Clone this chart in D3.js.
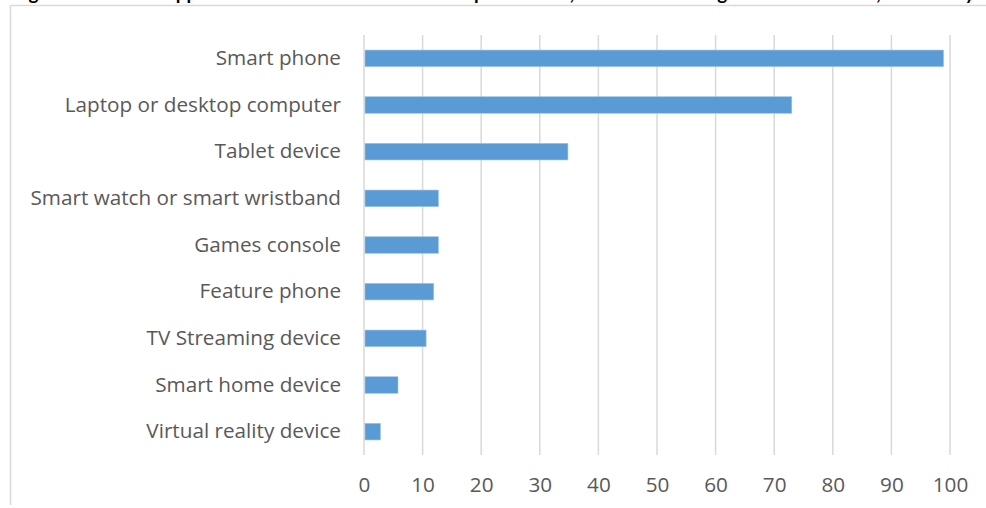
<!DOCTYPE html>
<html>
<head>
<meta charset="utf-8">
<script src="https://cdn.jsdelivr.net/npm/d3@7"></script>
<style>
  html, body { margin: 0; padding: 0; background: #fff; }
  svg { display: block; }
</style>
</head>
<body>
<svg id="chart" width="986" height="508"></svg>
<script>
const titleParts = ["Figure 6: Mobile ", "apps used on each device in the ", "past month, ", "among all UK adults 16+, in 2022 by"];
const categories = [
  "Smart phone",
  "Laptop or desktop computer",
  "Tablet device",
  "Smart watch or smart wristband",
  "Games console",
  "Feature phone",
  "TV Streaming device",
  "Smart home device",
  "Virtual reality device"
];
const values = [98.9, 73.0, 34.8, 12.7, 12.7, 11.9, 10.6, 5.8, 2.8];
const xTicks = [0, 10, 20, 30, 40, 50, 60, 70, 80, 90, 100];

const svg = d3.select("#chart");
const W = 986, H = 508;
const font = "'Open Sans', 'Noto Sans', sans-serif";
const textColor = "#595959";
const gridColor = "#d9d9d9";
const barColor = "#5b9bd5";

// Title (cut off at top, as in the reference)
const titleStarts = [13, 166, 474, 670];
const title = svg.append("text")
  .attr("y", -0.5)
  .attr("font-family", "Lato, sans-serif")
  .attr("font-weight", "bold")
  .attr("font-size", 19)
  .attr("fill", "#000");
title.selectAll("tspan").data(titleParts).join("tspan")
  .attr("x", (d, i) => titleStarts[i])
  .text(d => d);

// Chart area border
svg.append("line").attr("x1", 10.5).attr("x2", W).attr("y1", 5.5).attr("y2", 5.5)
  .attr("stroke", gridColor).attr("stroke-width", 1.5);
svg.append("line").attr("x1", 10.5).attr("x2", 10.5).attr("y1", 5.5).attr("y2", H - 3)
  .attr("stroke", gridColor).attr("stroke-width", 1.5);

const x = d3.scaleLinear().domain([0, 100]).range([364, 950]);
const y = d3.scaleBand().domain(categories).range([35, 455]).paddingInner(0.645).paddingOuter(0.3225);

// Gridlines
svg.append("g").selectAll("line").data(xTicks).join("line")
  .attr("x1", d => x(d)).attr("x2", d => x(d))
  .attr("y1", 35).attr("y2", 455)
  .attr("stroke", gridColor).attr("stroke-width", 1.5);

// Bars
svg.append("g").selectAll("rect").data(values).join("rect")
  .attr("x", x(0) + 1)
  .attr("y", (d, i) => y(categories[i]))
  .attr("width", d => x(d) - x(0) - 1)
  .attr("height", y.bandwidth())
  .attr("fill", barColor)
  .attr("stroke", "#9dc3e6")
  .attr("stroke-width", 0.6);

// Category labels (y axis)
const yAxis = d3.axisLeft(y).tickSize(0).tickPadding(23);
const gy = svg.append("g").attr("transform", `translate(${x(0)},0)`).call(yAxis);
gy.select(".domain").remove();
gy.selectAll("text")
  .attr("font-family", font).attr("font-size", 20.7).attr("fill", textColor);

// X axis labels
const xAxis = d3.axisBottom(x).tickValues(xTicks).tickSize(0).tickPadding(0).tickFormat(d3.format("d"));
const gx = svg.append("g").attr("transform", `translate(0,477)`).call(xAxis);
gx.select(".domain").remove();
gx.selectAll("text")
  .attr("font-family", font).attr("font-size", 20.7).attr("fill", textColor);
</script>
</body>
</html>
